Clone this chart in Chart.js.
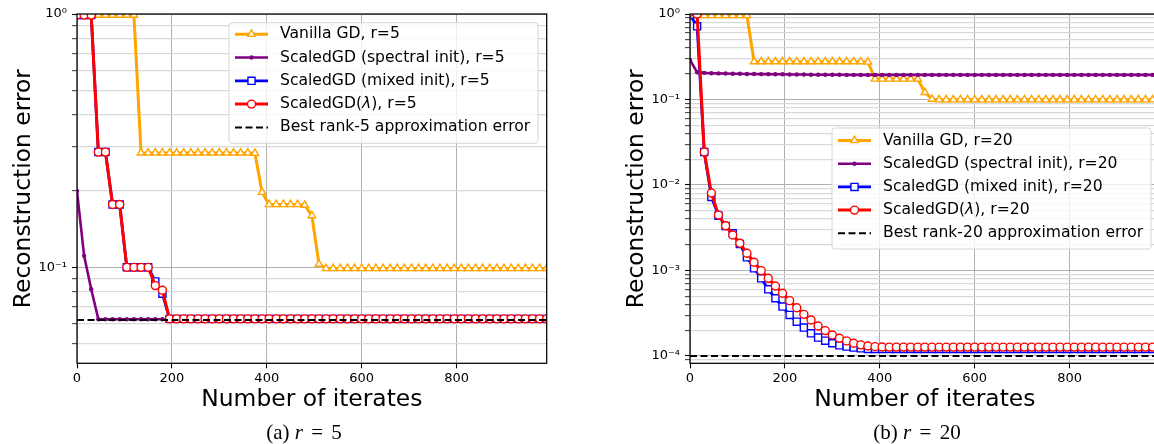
<!DOCTYPE html>
<html>
<head>
<meta charset="utf-8">
<script src="https://cdn.jsdelivr.net/npm/chart.js@4.4.1/dist/chart.umd.min.js"></script>
<style>
  html, body { margin: 0; padding: 0; background: #fff; }
  body { width: 1154px; height: 444px; overflow: hidden; position: relative; }
  .panel { position: absolute; top: 0; width: 577px; height: 444px; }
  .cap { position: absolute; top: 420px; font-family: "Liberation Serif", "DejaVu Serif", serif;
         font-size: 21px; line-height: 24px; white-space: nowrap; transform: translateX(-50%); color: #000; }
  .cap .eq { margin: 0 3px; }
</style>
</head>
<body>
<div class="panel" style="left:0"><canvas id="chartA" width="577" height="444"></canvas></div>
<div class="panel" style="left:613px"><canvas id="chartB" width="577" height="444"></canvas></div>
<div class="cap" style="left:304px">(a) <i>r</i> <span class="eq">=</span> 5</div>
<div class="cap" style="left:917px">(b) <i>r</i> <span class="eq">=</span> 20</div>
<script>
// iteration index of every stored point
const iterates = [0, 15, 30, 45, 60, 75, 90, 105, 120, 135, 150, 165, 180, 195, 210, 225, 240, 255, 270, 285,
  300, 315, 330, 345, 360, 375, 390, 405, 420, 435, 450, 465, 480, 495, 510, 525, 540, 555, 570, 585,
  600, 615, 630, 645, 660, 675, 690, 705, 720, 735, 750, 765, 780, 795, 810, 825, 840, 855, 870, 885,
  900, 915, 930, 945, 960, 975, 990];

// ---- r = 5 ----
const vanillaR5 = [
  0.99, 0.99, 0.99, 0.99, 0.99, 0.99, 0.99, 0.99, 0.99, 0.283,
  0.283, 0.283, 0.283, 0.283, 0.283, 0.283, 0.283, 0.283, 0.283, 0.283,
  0.283, 0.283, 0.283, 0.283, 0.283, 0.282, 0.198, 0.177, 0.177, 0.177,
  0.177, 0.177, 0.176, 0.16, 0.103, 0.099, 0.099, 0.099, 0.099, 0.099,
  0.099, 0.099, 0.099, 0.099, 0.099, 0.099, 0.099, 0.099, 0.099, 0.099,
  0.099, 0.099, 0.099, 0.099, 0.099, 0.099, 0.099, 0.099, 0.099, 0.099,
  0.099, 0.099, 0.099, 0.099, 0.099, 0.099, 0.099];
const spectralR5 = [
  0.2, 0.111, 0.082, 0.0624, 0.0624, 0.0624, 0.0624, 0.0624, 0.0624, 0.0624,
  0.0624, 0.0624, 0.0624, 0.0624, 0.0624, 0.0624, 0.0624, 0.0624, 0.0624, 0.0624,
  0.0624, 0.0624, 0.0624, 0.0624, 0.0624, 0.0624, 0.0624, 0.0624, 0.0624, 0.0624,
  0.0624, 0.0624, 0.0624, 0.0624, 0.0624, 0.0624, 0.0624, 0.0624, 0.0624, 0.0624,
  0.0624, 0.0624, 0.0624, 0.0624, 0.0624, 0.0624, 0.0624, 0.0624, 0.0624, 0.0624,
  0.0624, 0.0624, 0.0624, 0.0624, 0.0624, 0.0624, 0.0624, 0.0624, 0.0624, 0.0624,
  0.0624, 0.0624, 0.0624, 0.0624, 0.0624, 0.0624, 0.0624];
const mixedR5 = [
  0.99, 0.99, 0.99, 0.285, 0.285, 0.177, 0.177, 0.1, 0.1, 0.1,
  0.1, 0.088, 0.0787, 0.0626, 0.0626, 0.0626, 0.0626, 0.0626, 0.0626, 0.0626,
  0.0626, 0.0626, 0.0626, 0.0626, 0.0626, 0.0626, 0.0626, 0.0626, 0.0626, 0.0626,
  0.0626, 0.0626, 0.0626, 0.0626, 0.0626, 0.0626, 0.0626, 0.0626, 0.0626, 0.0626,
  0.0626, 0.0626, 0.0626, 0.0626, 0.0626, 0.0626, 0.0626, 0.0626, 0.0626, 0.0626,
  0.0626, 0.0626, 0.0626, 0.0626, 0.0626, 0.0626, 0.0626, 0.0626, 0.0626, 0.0626,
  0.0626, 0.0626, 0.0626, 0.0626, 0.0626, 0.0626, 0.0626];
const lambdaR5 = [
  0.99, 0.99, 0.99, 0.285, 0.285, 0.177, 0.177, 0.1, 0.1, 0.1,
  0.1, 0.0847, 0.0812, 0.0626, 0.0626, 0.0626, 0.0626, 0.0626, 0.0626, 0.0626,
  0.0626, 0.0626, 0.0626, 0.0626, 0.0626, 0.0626, 0.0626, 0.0626, 0.0626, 0.0626,
  0.0626, 0.0626, 0.0626, 0.0626, 0.0626, 0.0626, 0.0626, 0.0626, 0.0626, 0.0626,
  0.0626, 0.0626, 0.0626, 0.0626, 0.0626, 0.0626, 0.0626, 0.0626, 0.0626, 0.0626,
  0.0626, 0.0626, 0.0626, 0.0626, 0.0626, 0.0626, 0.0626, 0.0626, 0.0626, 0.0626,
  0.0626, 0.0626, 0.0626, 0.0626, 0.0626, 0.0626, 0.0626];
const bestR5 = 0.062;

// ---- r = 20 ----
const vanillaR20 = [
  0.96, 0.96, 0.96, 0.96, 0.96, 0.96, 0.96, 0.96, 0.96, 0.277,
  0.277, 0.277, 0.277, 0.277, 0.277, 0.277, 0.277, 0.277, 0.277, 0.277,
  0.277, 0.277, 0.277, 0.277, 0.277, 0.275, 0.174, 0.174, 0.174, 0.174,
  0.174, 0.174, 0.173, 0.121, 0.101, 0.0995, 0.0995, 0.0995, 0.0995, 0.0995,
  0.0995, 0.0995, 0.0995, 0.0995, 0.0995, 0.0995, 0.0995, 0.0995, 0.0995, 0.0995,
  0.0995, 0.0995, 0.0995, 0.0995, 0.0995, 0.0995, 0.0995, 0.0995, 0.0995, 0.0995,
  0.0995, 0.0995, 0.0995, 0.0995, 0.0995, 0.0995, 0.0995];
const spectralR20 = [
  0.29, 0.208, 0.205, 0.203, 0.202, 0.201, 0.2, 0.2, 0.199, 0.199,
  0.198, 0.198, 0.197, 0.197, 0.196, 0.196, 0.196, 0.195, 0.195, 0.195,
  0.195, 0.195, 0.194, 0.194, 0.194, 0.194, 0.194, 0.194, 0.194, 0.194,
  0.194, 0.194, 0.194, 0.194, 0.194, 0.194, 0.194, 0.194, 0.194, 0.194,
  0.194, 0.194, 0.194, 0.194, 0.194, 0.194, 0.194, 0.194, 0.194, 0.194,
  0.194, 0.194, 0.194, 0.194, 0.194, 0.194, 0.194, 0.194, 0.194, 0.194,
  0.194, 0.194, 0.194, 0.194, 0.194, 0.194, 0.194];
const mixedR20 = [
  0.98, 0.718, 0.0243, 0.00724, 0.00438, 0.00332, 0.00272, 0.00204, 0.001426, 0.00106,
  0.00081, 0.000602, 0.000473, 0.000378, 0.000302, 0.000252, 0.000215, 0.000184, 0.000164, 0.000151,
  0.000141, 0.000133, 0.0001286, 0.0001252, 0.000123, 0.000121, 0.000121, 0.000121, 0.000121, 0.000121,
  0.000121, 0.000121, 0.000121, 0.000121, 0.000121, 0.000121, 0.000121, 0.000121, 0.000121, 0.000121,
  0.000121, 0.000121, 0.000121, 0.000121, 0.000121, 0.000121, 0.000121, 0.000121, 0.000121, 0.000121,
  0.000121, 0.000121, 0.000121, 0.000121, 0.000121, 0.000121, 0.000121, 0.000121, 0.000121, 0.000121,
  0.000121, 0.000121, 0.000121, 0.000121, 0.000121, 0.000121, 0.000121];
const lambdaR20 = [
  1.05, 1.0, 0.0243, 0.00806, 0.00446, 0.00334, 0.0026, 0.00208, 0.00159, 0.00125,
  0.000996, 0.00081, 0.000659, 0.000541, 0.000444, 0.000367, 0.000307, 0.000264, 0.000224, 0.000198,
  0.000176, 0.000161, 0.00015, 0.000141, 0.000135, 0.000131, 0.0001286, 0.0001274, 0.000127, 0.000127,
  0.000127, 0.000127, 0.000127, 0.000127, 0.000127, 0.000127, 0.000127, 0.000127, 0.000127, 0.000127,
  0.000127, 0.000127, 0.000127, 0.000127, 0.000127, 0.000127, 0.000127, 0.000127, 0.000127, 0.000127,
  0.000127, 0.000127, 0.000127, 0.000127, 0.000127, 0.000127, 0.000127, 0.000127, 0.000127, 0.000127,
  0.000127, 0.000127, 0.000127, 0.000127, 0.000127, 0.000127, 0.000127];
const bestR20 = 0.0001;

const labelsR5 = ['Vanilla GD, r=5', 'ScaledGD (spectral init), r=5', 'ScaledGD (mixed init), r=5',
  'ScaledGD(λ), r=5', 'Best rank-5 approximation error'];
const labelsR20 = ['Vanilla GD, r=20', 'ScaledGD (spectral init), r=20', 'ScaledGD (mixed init), r=20',
  'ScaledGD(λ), r=20', 'Best rank-20 approximation error'];

// axis ticks
const xTicks = [0, 200, 400, 600, 800];
const yMajorA = [0.1, 1];
const yMajorLabelsA = ['10⁻¹', '10⁰'];
const yMinorA = [0.05, 0.06, 0.07, 0.08, 0.09, 0.2, 0.3, 0.4, 0.5, 0.6, 0.7, 0.8, 0.9];
const yMajorB = [0.0001, 0.001, 0.01, 0.1, 1];
const yMajorLabelsB = ['10⁻⁴', '10⁻³', '10⁻²', '10⁻¹', '10⁰'];
const yMinorB = [0.00009];
[0.0001, 0.001, 0.01, 0.1].forEach(d => { for (let k = 2; k <= 9; k++) yMinorB.push(d * k); });

Chart.defaults.font.family = '"DejaVu Sans", sans-serif';
Chart.defaults.color = '#000';

const ORANGE = '#ffa500', PURPLE = '#800080', BLUE = '#0000ff', RED = '#ff0000';

const toPoints = (ys) => iterates.map((x, i) => ({ x: x, y: ys[i] }));

function buildDatasets(series, labels, best) {
  return [
    { label: labels[0], data: toPoints(series[0]), borderColor: ORANGE, borderWidth: 3, order: 4,
      pointStyle: 'triangle', pointRadius: 4.3, pointBorderWidth: 1.4,
      pointBorderColor: ORANGE, pointBackgroundColor: '#fff' },
    { label: labels[1], data: toPoints(series[1]), borderColor: PURPLE, borderWidth: 2.6, order: 3,
      pointStyle: 'circle', pointRadius: 2.2, pointBorderWidth: 0,
      pointBorderColor: PURPLE, pointBackgroundColor: PURPLE },
    { label: labels[2], data: toPoints(series[2]), borderColor: BLUE, borderWidth: 2.8, order: 2,
      pointStyle: 'rect', pointRadius: 5, pointBorderWidth: 1.4,
      pointBorderColor: BLUE, pointBackgroundColor: '#fff' },
    { label: labels[3], data: toPoints(series[3]), borderColor: RED, borderWidth: 3, order: 1,
      pointStyle: 'circle', pointRadius: 4, pointBorderWidth: 1.4,
      pointBorderColor: RED, pointBackgroundColor: '#fff' },
    { label: labels[4], data: [{ x: iterates[0], y: best }, { x: iterates[iterates.length - 1], y: best }],
      borderColor: '#000', borderWidth: 2, borderDash: [7, 3.5], order: 0, pointRadius: 0 }
  ];
}

const isDecade = (v) => Math.abs(Math.log10(v) - Math.round(Math.log10(v))) < 1e-6;

// full box round the plot area
const frame = {
  id: 'frame',
  afterDatasetsDraw(chart) {
    const { ctx, chartArea: a } = chart;
    ctx.save();
    ctx.strokeStyle = '#000';
    ctx.lineWidth = 1.25;
    ctx.strokeRect(a.left, a.top, a.right - a.left, a.bottom - a.top);
    ctx.restore();
  }
};

function drawMarker(ctx, ds, x, y) {
  if (!ds.pointRadius) return;
  const opts = {
    pointStyle: ds.pointStyle, radius: ds.pointRadius, rotation: 0,
    borderWidth: ds.pointBorderWidth
  };
  ctx.fillStyle = ds.pointBackgroundColor;
  ctx.strokeStyle = ds.pointBorderColor;
  ctx.lineWidth = ds.pointBorderWidth;
  Chart.helpers.drawPoint(ctx, opts, x, y);
}

// matplotlib style legend inside the axes
const boxLegend = {
  id: 'boxLegend',
  afterDatasetsDraw(chart, args, o) {
    const ctx = chart.ctx;
    ctx.save();
    ctx.beginPath();
    ctx.roundRect(o.x, o.y, o.w, o.h, 3);
    ctx.fillStyle = 'rgba(255,255,255,0.8)';
    ctx.fill();
    ctx.strokeStyle = '#d6d6d6';
    ctx.lineWidth = 1;
    ctx.stroke();
    chart.data.datasets.forEach((ds, i) => {
      const cy = o.y + o.first + i * o.gap;
      const x0 = o.x + 6, x1 = o.x + 39;
      ctx.beginPath();
      ctx.setLineDash(ds.borderDash || []);
      ctx.strokeStyle = ds.borderColor;
      ctx.lineWidth = ds.borderWidth;
      ctx.moveTo(x0, cy);
      ctx.lineTo(x1, cy);
      ctx.stroke();
      ctx.setLineDash([]);
      drawMarker(ctx, ds, (x0 + x1) / 2, cy);
      // label, with an italic lambda
      ctx.fillStyle = '#000';
      ctx.textBaseline = 'middle';
      let tx = o.x + 51;
      const parts = ds.label.split('λ');
      parts.forEach((p, k) => {
        ctx.font = o.size + 'px "DejaVu Sans"';
        ctx.fillText(p, tx, cy);
        tx += ctx.measureText(p).width;
        if (k < parts.length - 1) {
          ctx.font = 'italic ' + o.size + 'px "DejaVu Sans"';
          ctx.fillText('λ', tx, cy);
          tx += ctx.measureText('λ').width;
        }
      });
    });
    ctx.restore();
  }
};

function makeChart(id, datasets, yMin, majors, majorLabels, minors, legendBox) {
  const yTickValues = minors.concat(majors).sort((a, b) => a - b);
  return new Chart(document.getElementById(id), {
    type: 'line',
    data: { datasets: datasets },
    plugins: [frame, boxLegend],
    options: {
      responsive: false,
      animation: false,
      layout: { padding: { left: 0, top: 14, right: 30.3, bottom: 30 } },
      plugins: {
        legend: { display: false },
        tooltip: { enabled: false },
        boxLegend: legendBox
      },
      elements: { line: { tension: 0 } },
      scales: {
        x: {
          type: 'linear', min: 0, max: 990,
          afterBuildTicks: (s) => { s.ticks = xTicks.map(v => ({ value: v })); },
          afterFit: (s) => { s.height = 50.7; },
          grid: { color: '#b0b0b0', lineWidth: 1, tickColor: '#000', tickLength: 5, tickWidth: 1.1 },
          border: { display: false },
          ticks: { font: { size: 13 }, padding: 3, maxRotation: 0, autoSkip: false },
          title: { display: true, text: 'Number of iterates', font: { size: 23.4 }, padding: { top: 0, bottom: 0 } }
        },
        y: {
          type: 'logarithmic', min: yMin, max: 1,
          afterBuildTicks: (s) => { s.ticks = yTickValues.map(v => ({ value: v })); },
          afterFit: (s) => { s.width = 77; },
          grid: {
            color: (c) => (c.tick && isDecade(c.tick.value)) ? '#b0b0b0' : '#d9d9d9',
            lineWidth: (c) => (c.tick && isDecade(c.tick.value)) ? 1 : 1.3,
            tickColor: '#000', tickLength: 5,
            tickWidth: (c) => (c.tick && isDecade(c.tick.value)) ? 1.1 : 0.8
          },
          border: { display: false },
          ticks: {
            font: { size: 13 }, padding: 5, autoSkip: false,
            callback: (v) => {
              const k = majors.findIndex(m => Math.abs(m - v) / m < 1e-6);
              return k >= 0 ? majorLabels[k] : '';
            }
          },
          title: { display: true, text: 'Reconstruction error', font: { size: 23.4 }, padding: { top: 10, bottom: 0 } }
        }
      }
    }
  });
}

makeChart('chartA', buildDatasets([vanillaR5, spectralR5, mixedR5, lambdaR5], labelsR5, bestR5),
  0.0418, yMajorA, yMajorLabelsA, yMinorA,
  { x: 229, y: 22.7, w: 309, h: 120.6, first: 11.5, gap: 23.3, size: 15.6 });

makeChart('chartB', buildDatasets([vanillaR20, spectralR20, mixedR20, lambdaR20], labelsR20, bestR20),
  0.0000821, yMajorB, yMajorLabelsB, yMinorB,
  { x: 219, y: 128, w: 319, h: 121, first: 12.5, gap: 23.2, size: 15.6 });
</script>
</body>
</html>
